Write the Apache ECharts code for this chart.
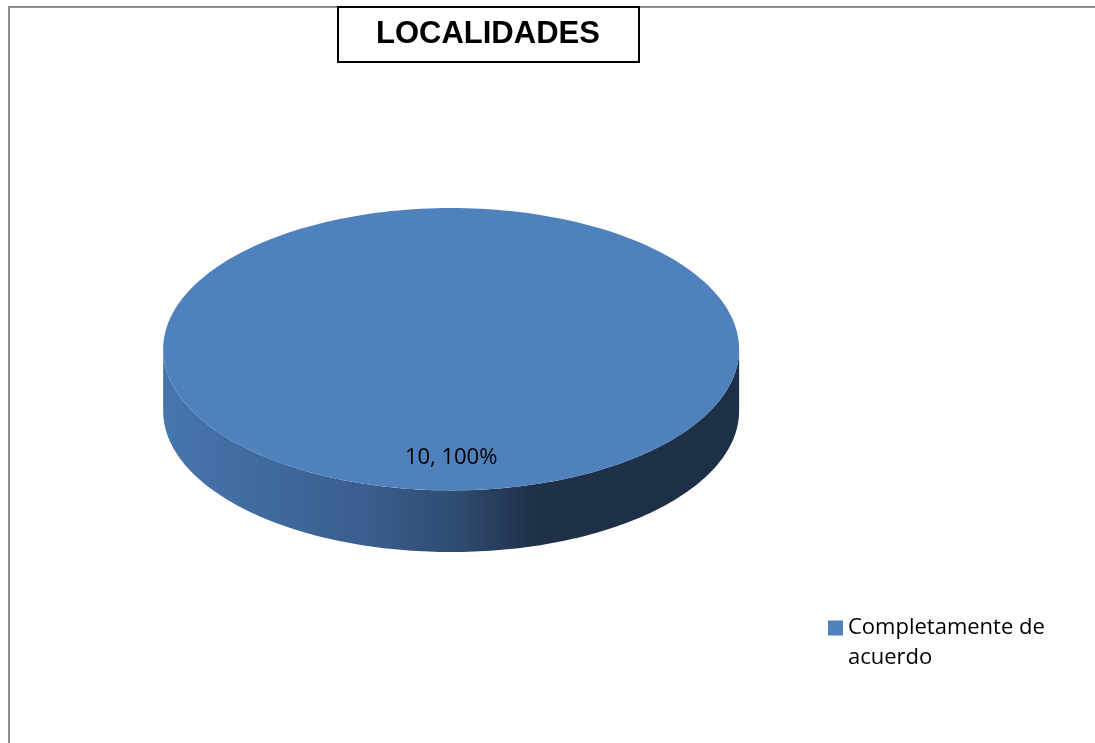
<!DOCTYPE html>
<html>
<head>
<meta charset="utf-8">
<style>
  html, body { margin: 0; padding: 0; background: #ffffff; }
  #chart { width: 1095px; height: 743px; }
</style>
<script src="https://cdn.jsdelivr.net/npm/echarts@6/dist/echarts.min.js"></script>
</head>
<body>
<div id="chart"></div>
<script>
// Survey answers for "LOCALIDADES"
const categories = ['Completamente de acuerdo'];
const values = [10];
const sliceColors = ['#4f81bd'];

const total = values.reduce((s, v) => s + v, 0);

// Cumulative share before each slice (slices run clockwise from 12 o'clock)
const startShares = [];
values.reduce((acc, v) => { startShares.push(acc); return acc + v; }, 0);

function arcPoints(cx, cy, rx, ry, a0, a1, steps) {
  const pts = [];
  for (let i = 0; i <= steps; i++) {
    const a = a0 + (a1 - a0) * i / steps;
    pts.push([cx + rx * Math.cos(a), cy + ry * Math.sin(a)]);
  }
  return pts;
}

function renderSlice(params, api) {
  const i = params.dataIndex;
  const W = api.getWidth(), H = api.getHeight();
  // tilted disc layout
  const cx = W * 0.412, cy = H * 0.47;
  const rx = W * 0.263, ry = H * 0.19;
  const depth = H * 0.083;

  const v = api.value(0);
  const a0 = -Math.PI / 2 + 2 * Math.PI * startShares[i] / total;
  const a1 = a0 + 2 * Math.PI * v / total;
  const full = v / total >= 0.9999;
  const color = sliceColors[i % sliceColors.length];

  const children = [];

  // outer wall: the part of the slice facing the viewer (angles 0..PI)
  const s0 = Math.max(a0, 0), s1 = Math.min(a1, Math.PI);
  if (s1 > s0) {
    const topEdge = arcPoints(cx, cy, rx, ry, s0, s1, 160);
    const botEdge = arcPoints(cx, cy + depth, rx, ry, s1, s0, 160);
    children.push({
      type: 'polygon',
      shape: { points: topEdge.concat(botEdge) },
      style: {
        fill: new echarts.graphic.LinearGradient(0, 0, 1, 0, [
          { offset: 0, color: '#4676ae' },
          { offset: 0.35, color: '#3a5e8e' },
          { offset: 0.52, color: '#2e4a6e' },
          { offset: 0.64, color: '#1f3149' },
          { offset: 1, color: '#1e3048' }
        ])
      }
    });
  }

  // top face
  const rim = arcPoints(cx, cy, rx, ry, a0, a1, 240);
  children.push({
    type: 'polygon',
    shape: { points: full ? rim : [[cx, cy]].concat(rim) },
    style: { fill: color }
  });

  // value label
  const mid = (a0 + a1) / 2;
  const k = full ? 0.77 : 0.6;
  children.push({
    type: 'text',
    x: cx + rx * k * Math.cos(mid),
    y: cy + ry * k * Math.sin(mid),
    style: {
      text: v + ', ' + Math.round(v / total * 100) + '%',
      fill: '#000000',
      font: '22px "Open Sans"',
      align: 'center',
      verticalAlign: 'middle'
    }
  });

  return { type: 'group', children: children };
}

const chart = echarts.init(document.getElementById('chart'), null, { renderer: 'canvas' });

chart.setOption({
  animation: false,
  backgroundColor: '#ffffff',
  title: {
    text: 'LOCALIDADES',
    left: 338,
    top: 7,
    padding: [12, 39, 12, 38],
    borderWidth: 2,
    borderColor: '#000000',
    backgroundColor: '#ffffff',
    textStyle: {
      fontFamily: '"Liberation Sans", Arial, sans-serif',
      fontWeight: 'bold',
      fontSize: 31,
      color: '#000000'
    }
  },
  legend: {
    data: categories.map(n => ({ name: n, icon: 'rect' })),
    orient: 'vertical',
    left: 828,
    top: 583,
    padding: 0,
    itemWidth: 15,
    itemHeight: 15,
    itemGap: 6,
    // an empty first line keeps the swatch level with the first line of text
    formatter: n => '\n' + n.replace('Completamente de ', 'Completamente de\n'),
    textStyle: {
      fontFamily: '"Open Sans", sans-serif',
      fontSize: 22,
      lineHeight: 30,
      color: '#000000'
    }
  },
  graphic: [{
    type: 'rect',
    silent: true,
    z: -10,
    shape: { x: 9, y: 7, width: 1200, height: 800 },
    style: { fill: 'none', stroke: '#8c8c8c', lineWidth: 2 }
  }],
  series: [{
    type: 'custom',
    name: categories[0],
    coordinateSystem: 'none',
    itemStyle: { color: sliceColors[0] },
    renderItem: renderSlice,
    data: values.map(v => [v])
  }]
});
</script>
</body>
</html>
